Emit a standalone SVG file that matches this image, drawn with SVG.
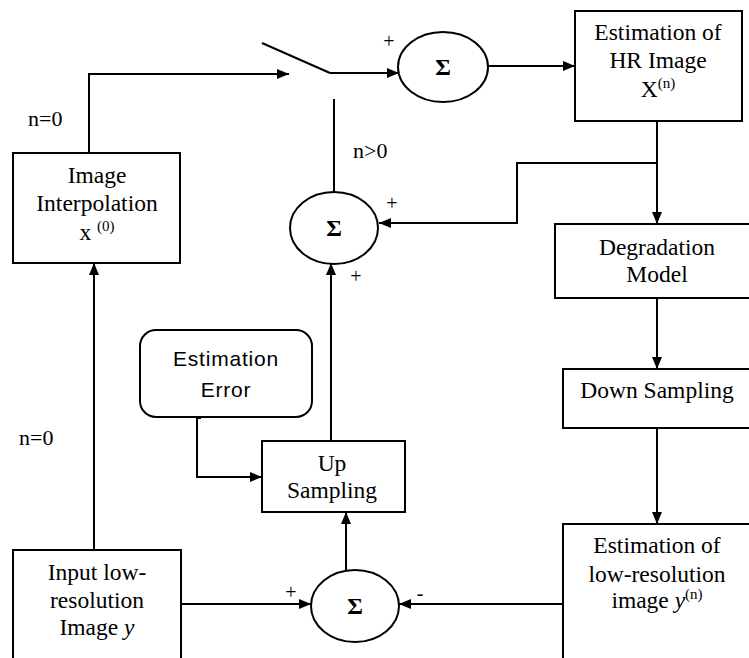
<svg xmlns="http://www.w3.org/2000/svg" width="749" height="658" viewBox="0 0 749 658">
<style>
.box{fill:#fff;stroke:#000;stroke-width:2}
.sum{fill:#fff;stroke:#000;stroke-width:2}
.ln{fill:none;stroke:#000;stroke-width:2}
.t{font-family:"Liberation Serif","Times New Roman",serif;font-size:23.5px;fill:#000;text-anchor:middle}
.s{font-family:"Liberation Sans",Arial,sans-serif;font-size:21px;letter-spacing:0.8px;fill:#000;text-anchor:middle}
.sig{font-family:"Liberation Serif","Times New Roman",serif;font-size:24px;font-weight:bold;fill:#000;text-anchor:middle}
.lab{font-family:"Liberation Serif","Times New Roman",serif;font-size:22px;fill:#000}
.pm{font-family:"Liberation Serif","Times New Roman",serif;font-size:20px;fill:#000;text-anchor:middle}
.sup{font-size:15px}
</style>
<defs>
<marker id="ah" markerWidth="12" markerHeight="10" refX="12" refY="5" orient="auto" markerUnits="userSpaceOnUse">
<path d="M0,0 L12,5 L0,10 Z" fill="#000"/>
</marker>
</defs>
<rect width="749" height="658" fill="#fff"/>

<g id="connectors">
<polyline class="ln" points="89,153 89,74 289,74" marker-end="url(#ah)"/>
<line class="ln" x1="262" y1="43" x2="330" y2="73"/>
<line class="ln" x1="330" y1="73" x2="399" y2="73" marker-end="url(#ah)"/>
<line class="ln" x1="334" y1="99" x2="334" y2="192"/>
<line class="ln" x1="488" y1="66" x2="575" y2="66" marker-end="url(#ah)"/>
<line class="ln" x1="657" y1="121" x2="657" y2="224" marker-end="url(#ah)"/>
<polyline class="ln" points="657,163 517,163 517,223 379,223" marker-end="url(#ah)"/>
<line class="ln" x1="657" y1="298" x2="657" y2="369" marker-end="url(#ah)"/>
<line class="ln" x1="657" y1="428" x2="657" y2="524" marker-end="url(#ah)"/>
<line class="ln" x1="564" y1="604" x2="399" y2="604" marker-end="url(#ah)"/>
<line class="ln" x1="181" y1="604" x2="311" y2="604" marker-end="url(#ah)"/>
<line class="ln" x1="94" y1="550" x2="94" y2="263" marker-end="url(#ah)"/>
<line class="ln" x1="346" y1="570" x2="346" y2="512" marker-end="url(#ah)"/>
<line class="ln" x1="331" y1="441" x2="331" y2="263" marker-end="url(#ah)"/>
<polyline class="ln" points="197,417 197,477 262,477" marker-end="url(#ah)"/>
<line class="ln" x1="197" y1="418" x2="201" y2="418"/>
</g>

<g id="labels">
<text class="lab" x="28" y="126">n=0</text>
<text class="lab" x="19" y="445">n=0</text>
<text class="lab" x="353" y="158">n&gt;0</text>
<text class="pm" x="389" y="48">+</text>
<text class="pm" x="392" y="210">+</text>
<text class="pm" x="356" y="283">+</text>
<text class="pm" x="291" y="599">+</text>
<text class="pm" x="420" y="600">-</text>
</g>

<g id="sum-top">
<ellipse class="sum" cx="443" cy="67" rx="45" ry="35"/>
<text class="sig" x="443" y="75">Σ</text>
</g>

<g id="sum-mid">
<ellipse class="sum" cx="334" cy="228" rx="44" ry="36"/>
<text class="sig" x="334" y="236">Σ</text>
</g>

<g id="sum-bottom">
<ellipse class="sum" cx="355" cy="606" rx="44" ry="36"/>
<text class="sig" x="355" y="614">Σ</text>
</g>

<g id="hr-estimate">
<rect class="box" x="575" y="11" width="167" height="110"/>
<text class="t" x="658" y="40">Estimation  of</text>
<text class="t" x="658" y="68">HR Image</text>
<text class="t" x="658" y="97">X<tspan class="sup" dy="-9">(n)</tspan></text>
</g>

<g id="interpolation">
<rect class="box" x="13" y="153" width="167" height="110"/>
<text class="t" x="97" y="183">Image</text>
<text class="t" x="97" y="211">Interpolation</text>
<text class="t" x="97" y="240">x <tspan class="sup" dy="-9">(0)</tspan></text>
</g>

<g id="degradation">
<rect class="box" x="555" y="224" width="200" height="74"/>
<text class="t" x="657" y="255">Degradation</text>
<text class="t" x="657" y="282">Model</text>
</g>

<g id="down-sampling">
<rect class="box" x="563" y="369" width="192" height="59"/>
<text class="t" x="657" y="398">Down Sampling</text>
</g>

<g id="estimation-error">
<rect class="box" x="140" y="330" width="172" height="87" rx="16" ry="16"/>
<text class="s" x="226" y="366">Estimation</text>
<text class="s" x="226" y="397">Error</text>
</g>

<g id="up-sampling">
<rect class="box" x="262" y="441" width="143" height="71"/>
<text class="t" x="332" y="471">Up</text>
<text class="t" x="332" y="498">Sampling</text>
</g>

<g id="input">
<rect class="box" x="13" y="550" width="168" height="120"/>
<text class="t" x="97" y="580">Input low-</text>
<text class="t" x="97" y="608">resolution</text>
<text class="t" x="97" y="635">Image <tspan font-style="italic">y</tspan></text>
</g>

<g id="lr-estimate">
<rect class="box" x="563" y="524" width="192" height="146"/>
<text class="t" x="657" y="553">Estimation  of</text>
<text class="t" x="657" y="582">low-resolution</text>
<text class="t" x="657" y="608">image <tspan font-style="italic">y</tspan><tspan class="sup" dy="-9">(n)</tspan></text>
</g>
</svg>
